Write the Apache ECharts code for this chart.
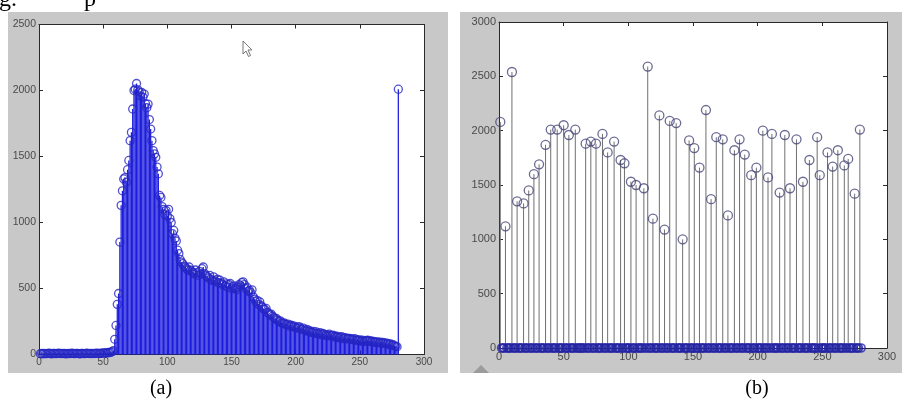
<!DOCTYPE html>
<html>
<head>
<meta charset="utf-8">
<script src="https://cdn.jsdelivr.net/npm/echarts@6/dist/echarts.min.js"></script>
<style>
html,body{margin:0;padding:0;background:#fff;}
#c{width:902px;height:401px;}
</style>
</head>
<body>
<div id="c"></div>
<script>
// ---------- DATA ----------
// Panel (a): histogram values for x = 1..280
const histA = [
  6,8,5,9,7,6,8,10,7,5,
  9,8,6,7,10,8,6,9,7,8,
  5,7,9,6,8,10,7,6,9,8,
  7,5,8,9,6,7,10,8,7,9,
  6,8,7,9,10,8,7,11,9,12,
  10,13,12,15,14,18,22,30,115,220,
  380,462,852,1130,1240,1330,1340,1305,1400,1470,
  1620,1683,1860,2000,2010,2053,2005,1990,1960,1985,
  1950,1973,1900,1870,1897,1780,1708,1620,1545,1520,
  1494,1420,1369,1205,1190,1120,1100,1060,1091,1050,
  1100,1030,1000,915,940,880,860,790,764,720,
  700,689,670,663,650,640,663,640,630,620,
  610,640,620,600,630,610,650,663,613,600,
  590,580,600,570,560,588,560,550,570,545,
  563,540,530,550,520,535,510,530,538,500,
  512,520,500,490,510,530,520,545,550,530,
  500,510,480,487,470,490,437,420,400,410,
  380,399,370,360,345,340,349,320,310,300,
  305,290,280,270,273,260,250,255,240,235,
  240,230,225,230,215,223,220,210,215,205,
  200,210,210,195,190,200,185,180,190,175,
  180,170,165,175,160,172,160,155,165,150,
  160,155,145,150,140,155,145,140,147,135,
  140,130,138,125,130,135,120,128,125,118,
  122,122,115,118,110,120,108,112,105,110,
  100,108,98,104,105,108,100,104,96,102,
  94,98,90,95,88,93,85,92,84,88,
  80,84,75,80,70,74,66,62,59,2010
];

// Panel (b): sparse signal, length 280, non-zero positions and values
const bLength = 280;
const bIdx = [1,5,10,14,19,23,27,31,36,40,
  45,50,54,59,67,71,75,80,84,89,
  94,97,102,106,112,115,119,124,128,132,
  137,142,147,151,155,160,164,168,173,177,
  182,186,190,195,199,204,208,211,217,221,
  225,230,235,240,246,248,254,258,262,267,
  270,275,279];
const bVal = [2080,1120,2540,1350,1330,1450,1600,1690,1870,2010,
  2010,2050,1960,2010,1880,1900,1880,1970,1800,1900,
  1730,1700,1530,1500,1470,2590,1190,2140,1090,2090,
  2070,1000,1910,1840,1660,2190,1370,1940,1920,1220,
  1820,1920,1780,1590,1660,2000,1570,1970,1430,1960,
  1470,1920,1530,1730,1940,1590,1800,1670,1820,1680,
  1740,1420,2010];

const xTicksMax = 300, xTickStep = 50;
const yAMax = 2500, yBMax = 3000, yTickStep = 500;
const captionA = '(a)', captionB = '(b)';

// ---------- BUILD ----------
const dataA = histA.map((v, i) => [i + 1, v]);
const bMap = {};
bIdx.forEach((x, i) => { bMap[x] = bVal[i]; });
const dataBNonZero = bIdx.map((x, i) => [x, bVal[i]]);
const dataBZero = [];
for (let x = 1; x <= bLength; x++) { if (!(x in bMap)) dataBZero.push([x, 0]); }

function stemRender(color, w) {
  return function (params, api) {
    const x = api.value(0), y = api.value(1);
    const p0 = api.coord([x, 0]);
    const p1 = api.coord([x, y]);
    return {
      type: 'line',
      shape: { x1: p0[0], y1: p0[1], x2: p1[0], y2: p1[1] },
      style: { stroke: color, lineWidth: w }
    };
  };
}

const axisCol = '#2a2a2a';
function xAx(grid, pos, showLabel, fs) {
  return {
    gridIndex: grid, type: 'value', position: pos, min: 0, max: xTicksMax, interval: xTickStep,
    axisLine: { show: true, onZero: false, lineStyle: { color: axisCol, width: 1 } },
    axisTick: { show: true, inside: true, length: 4, lineStyle: { color: axisCol } },
    axisLabel: { show: showLabel, color: '#4a4a4a', fontSize: fs, fontFamily: 'Liberation Sans', margin: 3, formatter: v => String(v) },
    splitLine: { show: false }
  };
}
function yAx(grid, pos, showLabel, max, fs) {
  return {
    gridIndex: grid, type: 'value', position: pos, min: 0, max: max, interval: yTickStep,
    axisLine: { show: true, onZero: false, lineStyle: { color: axisCol, width: 1 } },
    axisTick: { show: true, inside: true, length: 4, lineStyle: { color: axisCol } },
    axisLabel: { show: showLabel, color: '#4a4a4a', fontSize: fs, fontFamily: 'Liberation Sans', margin: 3, formatter: v => String(v) },
    splitLine: { show: false }
  };
}

const chart = echarts.init(document.getElementById('c'), null, { renderer: 'canvas' });
const option = {
  animation: false,
  backgroundColor: '#ffffff',
  grid: [
    { left: 39, top: 24.5, width: 385, height: 330 },
    { left: 499, top: 22, width: 388, height: 326 }
  ],
  xAxis: [xAx(0, 'bottom', true, 10), xAx(0, 'top', false, 10), xAx(1, 'bottom', true, 11), xAx(1, 'top', false, 11)],
  yAxis: [yAx(0, 'left', true, yAMax, 10.5), yAx(0, 'right', false, yAMax, 10.5), yAx(1, 'left', true, yBMax, 11), yAx(1, 'right', false, yBMax, 11)],
  graphic: [
    { type: 'rect', z: -100, shape: { x: 8, y: 12, width: 440, height: 361 }, style: { fill: '#c8c8c8' } },
    { type: 'rect', z: -99, shape: { x: 39, y: 24.5, width: 385, height: 330 }, style: { fill: '#ffffff' } },
    { type: 'rect', z: -100, shape: { x: 460, y: 12, width: 442, height: 361 }, style: { fill: '#c8c8c8' } },
    { type: 'rect', z: -99, shape: { x: 499, y: 22, width: 388, height: 326 }, style: { fill: '#ffffff' } },
    { type: 'text', z: 100, style: { text: captionA, x: 161, y: 389, align: 'center', verticalAlign: 'middle', font: '20px "Liberation Serif"', fill: '#000' } },
    { type: 'text', z: 100, style: { text: captionB, x: 757, y: 389, align: 'center', verticalAlign: 'middle', font: '20px "Liberation Serif"', fill: '#000' } },
    { type: 'text', z: 100, style: { text: 'g.', x: -1, y: 12, align: 'left', verticalAlign: 'bottom', font: '24px "Liberation Serif"', fill: '#000' } },
    { type: 'text', z: 100, style: { text: 'p', x: 84, y: 12, align: 'left', verticalAlign: 'bottom', font: '24px "Liberation Serif"', fill: '#000' } },
    { type: 'polygon', z: 100, shape: { points: [[243,41],[243,54],[246,51],[248.5,56.5],[250.5,55.5],[248,50],[252,50]] }, style: { fill: '#ffffff', stroke: '#777', lineWidth: 1 } },
    { type: 'polygon', z: 100, shape: { points: [[473,373],[481,365],[489,373]] }, style: { fill: '#9c9c9c' } }
  ],
  series: [
    { type: 'custom', xAxisIndex: 0, yAxisIndex: 0, clip: false, renderItem: stemRender('#1c1cdc', 1.25), data: dataA, z: 2 },
    { type: 'scatter', xAxisIndex: 0, yAxisIndex: 0, symbol: 'circle', symbolSize: 8, data: dataA, z: 3,
      itemStyle: { color: 'rgba(0,0,0,0)', borderColor: '#2626c4', borderWidth: 1.3 } },
    { type: 'custom', xAxisIndex: 2, yAxisIndex: 2, clip: false, renderItem: stemRender('#707070', 1), data: dataBNonZero, z: 2 },
    { type: 'scatter', xAxisIndex: 2, yAxisIndex: 2, symbol: 'circle', symbolSize: 9, data: dataBNonZero, z: 3,
      itemStyle: { color: 'rgba(0,0,0,0)', borderColor: '#464678', borderWidth: 1.3 } },
    { type: 'scatter', xAxisIndex: 2, yAxisIndex: 2, symbol: 'circle', symbolSize: 8, data: dataBZero, z: 3,
      itemStyle: { color: 'rgba(0,0,0,0)', borderColor: '#2424a4', borderWidth: 1.6 } }
  ]
};
chart.setOption(option);
</script>
</body>
</html>
